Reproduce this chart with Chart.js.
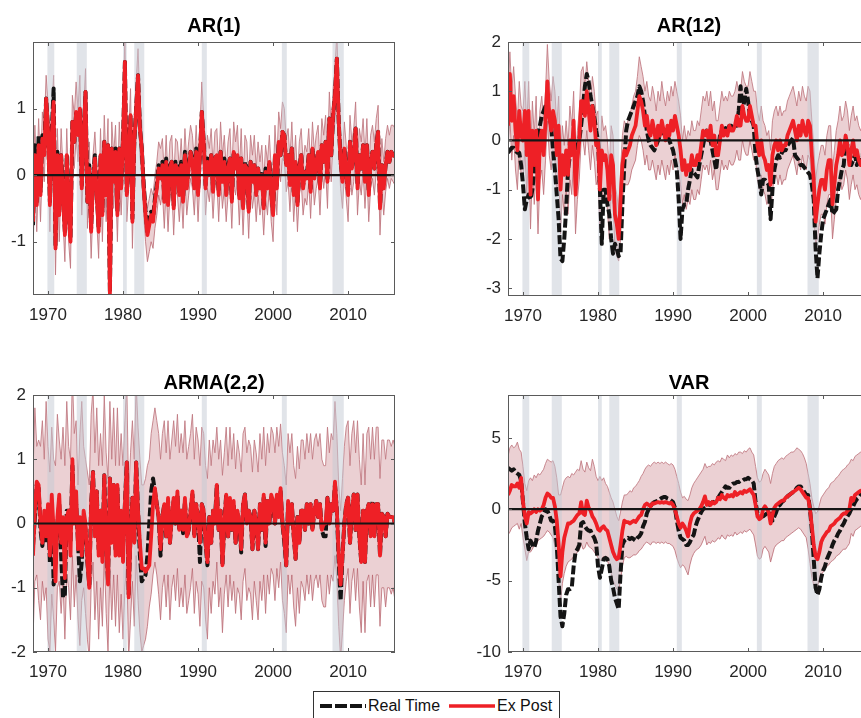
<!DOCTYPE html>
<html>
<head>
<meta charset="utf-8">
<script src="https://cdn.jsdelivr.net/npm/chart.js@4.4.1/dist/chart.umd.min.js"></script>
<style>
  html, body { margin: 0; padding: 0; background: #fff; }
  body { width: 861px; height: 718px; overflow: hidden; position: relative; font-family: 'Liberation Sans', Arial, Helvetica, sans-serif; }
  .panel { position: absolute; }
  #legend { position: absolute; left: 313px; top: 691px; width: 245px; height: 30px; border: 1px solid #333; background: #fff; font-size: 16px; color: #111; }
  #legend svg, #legend span { position: absolute; }
  #legend span { top: 5px; }
</style>
</head>
<body>
<div class="panel" style="left:-10px;top:14px"><canvas id="ar1" width="410" height="321"></canvas></div>
<div class="panel" style="left:465px;top:14px"><canvas id="ar12" width="410" height="322"></canvas></div>
<div class="panel" style="left:-10px;top:371px"><canvas id="arma" width="410" height="321"></canvas></div>
<div class="panel" style="left:465px;top:371px"><canvas id="var" width="410" height="321"></canvas></div>

<div id="legend">
  <svg style="left:6px;top:10px" width="46" height="8"><line x1="0" y1="4" x2="46" y2="4" stroke="#141414" stroke-width="4" stroke-dasharray="12 3"/></svg>
  <span style="left:54px">Real Time</span>
  <svg style="left:135px;top:10px" width="46" height="8"><line x1="0" y1="4" x2="46" y2="4" stroke="#ee2026" stroke-width="3.5"/></svg>
  <span style="left:183px">Ex Post</span>
</div>

<script>
// quarterly observations, first one is 1968Q1
const startYear = 1968;
const yearTicks = [1970, 1980, 1990, 2000, 2010];

// NBER recessions (start, end) in fractional years
const recessions = [
  [1969.92, 1970.83], [1973.83, 1975.17], [1980.0, 1980.5], [1981.5, 1982.83],
  [1990.5, 1991.17], [2001.17, 2001.83], [2007.92, 2009.42]
];

// ---- AR(1) ----
const ar1RealTime = [
  -0.75, 0.45, -0.4, 0.6, -0.25, 0.6, 0.4, 1.15, 0.7, -0.4, 0.65, 1.3, -1.05, 0.35, -0.55, 0.3,
  -0.25, -0.85, 0.3, -0.55, -0.95, 0.8, 0.5, 0.95, 0.6, 1.0, -0.15, 0.6, 1.25, -0.4, 0.15, -0.8,
  -0.05, 0.3, -0.25, -0.8, 0.3, -0.55, 0.5, -0.25, 0.45, -1.75, 0.4, -0.05, 0.4, -0.55, 0.4, -0.15,
  0.5, 1.7, -0.25, 0.2, 0.9, -0.65, 0.5, 1.0, 1.5, 0.7, 0.4, -0.15, -0.55, -0.85, -0.6, -0.55,
  -0.65, -0.35, -0.15, 0.15, 0.0, 0.2, -0.35, 0.25, -0.4, 0.15, 0.2, -0.45, 0.2, 0.15, -0.25, 0.2,
  -0.35, 0.35, -0.15, 0.15, 0.35, 0.25, -0.15, 0.4, -0.25, 0.3, 0.95, 0.5, -0.15, 0.25, 0.05, 0.3,
  -0.2, 0.25, 0.3, -0.25, 0.35, -0.05, 0.25, -0.25, 0.15, 0.25, -0.35, 0.35, 0.15, 0.3, -0.3, 0.25,
  -0.45, 0.2, 0.1, -0.5, 0.2, -0.05, 0.15, -0.25, 0.1, -0.15, 0.05, -0.45, 0.1, -0.15, 0.2, -0.25,
  -0.55, 0.3, -0.15, 0.5, 0.3, 0.65, 0.6, 0.15, 0.3, -0.1, 0.4, -0.25, 0.2, -0.4, 0.1, 0.3,
  -0.15, 0.05, 0.0, 0.3, -0.2, 0.4, 0.0, 0.2, 0.35, -0.15, 0.45, 0.2, 0.5, -0.05, 0.85, 0.3,
  0.9, 1.2, 1.75, 0.8, 0.2, -0.05, 0.4, 0.05, -0.25, 0.5, 0.1, 0.3, 0.7, -0.15, 0.3, 0.1,
  0.45, -0.05, 0.45, -0.25, 0.2, 0.35, 0.1, 0.45, 0.65, -0.45, 0.15, -0.15, 0.15, 0.35, 0.2, 0.35,
  0.3, 0.28
];
const ar1ExPost = [
  -0.7, 0.3, -0.45, 0.45, -0.3, 0.55, 0.3, 1.15, 0.7, -0.45, 0.6, 1.1, -1.1, 0.3, -0.6, 0.3,
  -0.3, -0.9, 0.3, -0.6, -1.0, 0.8, 0.5, 0.95, 0.6, 1.0, -0.2, 0.6, 1.25, -0.4, 0.1, -0.85,
  -0.1, 0.25, -0.3, -0.85, 0.3, -0.6, 0.5, -0.3, 0.45, -1.8, 0.4, -0.1, 0.35, -0.6, 0.4, -0.2,
  0.5, 1.7, -0.3, 0.2, 0.9, -0.7, 0.5, 1.0, 1.5, 0.7, 0.4, -0.2, -0.6, -0.9, -0.75, -0.6,
  -0.7, -0.4, -0.2, 0.1, -0.05, 0.15, -0.4, 0.2, -0.45, 0.1, 0.2, -0.5, 0.15, 0.1, -0.3, 0.15,
  -0.4, 0.3, -0.2, 0.1, 0.35, 0.2, -0.2, 0.35, -0.3, 0.3, 0.95, 0.5, -0.2, 0.2, 0.0, 0.3,
  -0.25, 0.25, 0.3, -0.3, 0.35, -0.1, 0.2, -0.3, 0.1, 0.25, -0.4, 0.35, 0.1, 0.3, -0.35, 0.25,
  -0.5, 0.15, 0.1, -0.55, 0.2, -0.1, 0.15, -0.3, 0.1, -0.2, 0.0, -0.5, 0.05, -0.2, 0.2, -0.3,
  -0.6, 0.3, -0.2, 0.5, 0.3, 0.65, 0.6, 0.15, 0.3, -0.15, 0.4, -0.3, 0.2, -0.45, 0.1, 0.3,
  -0.2, 0.05, -0.05, 0.3, -0.25, 0.4, -0.05, 0.2, 0.35, -0.2, 0.45, 0.2, 0.5, -0.1, 0.85, 0.3,
  0.9, 1.2, 1.75, 0.8, 0.2, -0.1, 0.4, 0.05, -0.3, 0.5, 0.1, 0.3, 0.7, -0.2, 0.3, 0.1,
  0.45, -0.1, 0.45, -0.3, 0.2, 0.35, 0.1, 0.45, 0.65, -0.5, 0.15, -0.2, 0.15, 0.35, 0.2, 0.35,
  0.3, 0.28
];
const ar1Upper = [
  -0.2, 0.75, 0.0, 0.85, 0.1, 0.95, 0.7, 1.5, 1.1, 0.0, 1.0, 1.5, -0.65, 0.7, -0.2, 0.7,
  0.1, -0.5, 0.7, -0.2, -0.55, 1.2, 0.9, 1.4, 1.0, 1.5, 0.2, 1.0, 1.6, 0.0, 0.5, -0.45,
  0.3, 0.65, 0.1, -0.4, 0.7, -0.2, 0.9, 0.1, 0.85, -1.4, 0.8, 0.3, 0.75, -0.2, 0.8, 0.2,
  0.9, 2.1, 0.1, 0.6, 1.3, -0.3, 0.9, 1.4, 1.9, 1.1, 0.8, 0.2, -0.2, -0.5, -0.35, -0.2,
  -0.3, 0.0, 0.2, 0.5, 0.4, 0.55, 0.0, 0.6, -0.05, 0.5, 0.6, -0.1, 0.55, 0.5, 0.1, 0.55,
  0.0, 0.7, 0.2, 0.5, 0.75, 0.6, 0.2, 0.75, 0.1, 0.7, 1.4, 0.9, 0.2, 0.6, 0.4, 0.7,
  0.15, 0.65, 0.7, 0.1, 0.8, 0.3, 0.6, 0.1, 0.5, 0.7, 0.0, 0.8, 0.5, 0.75, 0.05, 0.7,
  -0.1, 0.6, 0.5, -0.1, 0.6, 0.3, 0.6, 0.1, 0.5, 0.2, 0.45, -0.1, 0.45, 0.2, 0.6, 0.1,
  -0.2, 0.75, 0.2, 0.95, 0.7, 1.1, 1.0, 0.55, 0.7, 0.25, 0.8, 0.1, 0.6, -0.05, 0.5, 0.7,
  0.2, 0.45, 0.35, 0.7, 0.15, 0.8, 0.35, 0.6, 0.75, 0.2, 0.85, 0.6, 0.9, 0.3, 1.25, 0.7,
  1.3, 1.6, 2.15, 1.2, 0.6, 0.3, 0.8, 0.45, 0.1, 0.9, 0.5, 0.7, 1.1, 0.2, 0.7, 0.5,
  0.85, 0.3, 0.85, 0.1, 0.6, 0.75, 0.5, 0.85, 1.05, -0.1, 0.55, 0.2, 0.55, 0.75, 0.6, 0.75,
  0.75, 0.7
];
const ar1Lower = [
  -1.2, -0.1, -0.85, 0.05, -0.7, 0.15, -0.1, 0.75, 0.3, -0.85, 0.2, 0.7, -1.5, -0.1, -1.0, -0.1,
  -0.7, -1.3, -0.1, -1.0, -1.4, 0.4, 0.1, 0.55, 0.2, 0.6, -0.6, 0.2, 0.85, -0.8, -0.3, -1.25,
  -0.5, -0.15, -0.7, -1.25, -0.1, -1.0, 0.1, -0.7, 0.05, -2.2, 0.0, -0.5, -0.05, -1.0, 0.0, -0.6,
  0.1, 1.3, -0.7, -0.2, 0.5, -1.1, 0.1, 0.6, 1.1, 0.3, 0.0, -0.6, -1.0, -1.3, -1.15, -1.0,
  -1.1, -0.8, -0.6, -0.3, -0.45, -0.25, -0.8, -0.2, -0.85, -0.3, -0.2, -0.9, -0.25, -0.3, -0.7, -0.25,
  -0.8, -0.1, -0.6, -0.3, -0.05, -0.2, -0.6, -0.05, -0.7, -0.1, 0.55, 0.1, -0.6, -0.2, -0.4, -0.1,
  -0.65, -0.15, -0.1, -0.7, -0.05, -0.5, -0.2, -0.7, -0.3, -0.15, -0.8, -0.05, -0.3, -0.1, -0.75, -0.15,
  -0.9, -0.25, -0.3, -0.95, -0.2, -0.5, -0.25, -0.7, -0.3, -0.6, -0.4, -0.9, -0.35, -0.6, -0.2, -0.7,
  -1.0, -0.1, -0.6, 0.1, -0.1, 0.25, 0.2, -0.25, -0.1, -0.55, 0.0, -0.7, -0.2, -0.85, -0.3, -0.1,
  -0.6, -0.35, -0.45, -0.1, -0.65, 0.0, -0.45, -0.2, -0.05, -0.6, 0.05, -0.2, 0.1, -0.5, 0.45, -0.1,
  0.5, 0.8, 1.35, 0.4, -0.2, -0.5, 0.0, -0.35, -0.7, 0.1, -0.3, -0.1, 0.3, -0.6, -0.1, -0.3,
  0.05, -0.5, 0.05, -0.7, -0.2, -0.05, -0.3, 0.05, 0.25, -0.9, -0.25, -0.6, -0.25, -0.05, -0.2, -0.05,
  -0.1, -0.15
];

// ---- AR(12) ----
const ar12RealTime = [
  -0.25, -0.2, -0.15, -0.15, -0.2, -0.25, -0.25, -0.5, -0.9, -1.4, -1.2, -1.1, -1.2, -1.0, -0.6, -0.3,
  0.1, 0.3, 0.5, 0.6, 0.7, 0.75, 0.5, 0.3, -0.2, -0.6, -1.1, -1.6, -2.4, -2.45, -2.0, -1.4,
  -0.6, -0.3, 0.0, -0.2, -0.3, -0.1, 0.0, 0.3, 0.7, 1.1, 1.35, 1.2, 0.9, 0.7, 0.5, 0.2,
  0.0, -1.0, -2.1, -1.0, -1.0, -1.3, -1.5, -2.0, -2.3, -2.1, -2.2, -2.35, -2.3, -1.3, -0.5, 0.2,
  0.4, 0.5, 0.6, 0.7, 0.8, 0.9, 1.1, 1.0, 0.8, 0.5, 0.2, 0.0, -0.1, -0.15, -0.2, -0.1,
  0.0, 0.1, 0.15, 0.2, 0.2, 0.1, 0.0, -0.1, -0.2, -0.4, -0.6, -1.2, -2.0, -1.4, -1.3, -1.3,
  -1.0, -0.8, -0.6, -0.65, -0.7, -0.75, -0.5, -0.3, -0.1, 0.1, 0.2, 0.1, 0.0, -0.2, -0.4, -0.6,
  -0.2, 0.1, 0.2, 0.2, 0.25, 0.2, 0.3, 0.3, 0.25, 0.3, 0.3, 0.6, 1.1, 0.6, 0.8, 1.05,
  0.8, 0.5, 0.4, 0.3, -0.3, -0.6, -0.8, -1.1, -0.8, -0.8, -0.85, -0.9, -1.6, -1.0, -0.6, -0.4,
  -0.3, -0.35, -0.25, -0.2, -0.2, -0.1, -0.05, 0.0, 0.05, -0.3, -0.35, -0.4, -0.5, -0.5, -0.55, -0.6,
  -0.65, -0.7, -0.9, -1.2, -2.2, -2.8, -2.3, -1.9, -1.6, -1.5, -1.4, -1.3, -1.2, -1.5, -1.45, -1.4,
  -1.0, -0.8, -0.6, -0.5, 0.0, -0.1, -0.2, -0.5, -0.4, -0.3, -0.5, -0.4, -0.3, -0.3, -0.4, -0.35,
  -0.3, -0.3
];
const ar12ExPost = [
  0.3, 1.35, 0.4, 0.9, 0.2, -0.2, 0.6, 0.1, 0.0, 0.6, -0.3, 0.6, -1.1, 0.2, -0.5, 0.2,
  -1.2, 0.0, 0.2, -0.3, 0.4, 1.2, 0.5, 0.2, 0.6, 0.4, -0.3, 0.3, -1.0, -0.3, -0.7, -0.2,
  -0.7, 0.0, -0.3, 0.4, -1.1, -0.4, 0.0, 0.8, 0.8, 0.5, 1.0, 0.6, 0.2, 0.7, 0.4, -0.1,
  0.0, -1.0, -0.2, -0.4, -0.3, -0.6, -1.2, -0.3, -0.5, -1.5, -1.7, -2.0, -1.2, -0.5, -0.2, -0.3,
  -0.2, -0.1, 0.1, 0.2, 0.3, 0.6, 0.9, 0.8, 0.6, 0.3, 0.5, 0.2, 0.1, 0.4, 0.2, -0.1,
  0.3, 0.1, 0.4, 0.2, 0.0, 0.3, 0.1, 0.4, 0.2, 0.5, 0.3, 0.1, -0.2, -0.6, -0.4, -0.7,
  -0.5, -0.6, -0.3, -0.5, -0.5, -0.3, -0.4, -0.1, 0.2, 0.1, 0.2, 0.0, 0.3, -0.1, 0.1, -0.3,
  -0.3, 0.0, 0.3, 0.1, 0.2, 0.1, 0.3, 0.2, 0.2, 0.3, 0.5, 0.3, 0.3, 0.7, 0.5, 0.4,
  0.4, 0.7, 0.5, 0.3, 0.3, -0.1, -0.3, 0.0, -0.3, -0.4, -0.6, -0.5, -0.9, -0.3, -0.1, 0.0,
  -0.2, 0.0, -0.2, -0.1, -0.1, 0.1, 0.2, 0.3, 0.4, 0.2, 0.0, 0.3, 0.1, 0.4, 0.2, 0.1,
  0.4, 0.3, -0.3, -0.8, -1.65, -1.3, -1.0, -0.8, -0.8, -1.0, -0.6, -0.4, -0.4, -1.3, -0.9, -0.5,
  -0.3, 0.0, -0.3, -0.2, 0.1, -0.1, -0.5, -0.2, 0.0, -0.3, -0.2, -0.4, -0.5, -0.4, -0.3, -0.2,
  -0.2, -0.1
];
const ar12Upper = [
  0.9, 1.8, 1.0, 1.5, 0.9, 0.4, 1.2, 0.7, 0.6, 1.2, 0.3, 1.2, -0.4, 0.8, 0.1, 0.9,
  -0.5, 0.6, 0.9, 0.4, 1.0, 1.95, 1.2, 0.8, 1.3, 1.0, 0.3, 0.9, -0.3, 0.3, -0.1, 0.4,
  -0.1, 0.7, 0.3, 1.0, -0.4, 0.2, 0.6, 1.4, 1.5, 1.1, 1.6, 1.2, 0.8, 1.3, 1.0, 0.5,
  0.6, -0.4, 0.5, 0.2, 0.3, 0.0, -0.6, 0.3, 0.1, -0.9, -1.1, -1.4, -0.6, 0.1, 0.4, 0.3,
  0.4, 0.5, 0.7, 0.9, 1.0, 1.3, 1.7, 1.5, 1.3, 1.0, 1.2, 0.9, 0.8, 1.1, 0.9, 0.6,
  1.0, 0.8, 1.2, 0.9, 0.7, 1.0, 0.8, 1.1, 0.9, 1.2, 1.0, 0.8, 0.5, 0.0, 0.3, 0.0,
  0.2, 0.1, 0.4, 0.2, 0.2, 0.4, 0.3, 0.6, 0.9, 0.8, 1.0, 0.7, 1.0, 0.6, 0.8, 0.4,
  0.4, 0.7, 1.0, 0.8, 0.9, 0.8, 1.0, 0.9, 0.9, 1.0, 1.2, 1.0, 1.0, 1.4, 1.2, 1.1,
  1.1, 1.4, 1.2, 1.0, 1.0, 0.6, 0.4, 0.7, 0.4, 0.3, 0.1, 0.2, -0.2, 0.4, 0.6, 0.7,
  0.5, 0.7, 0.5, 0.6, 0.6, 0.8, 0.9, 1.0, 1.1, 0.9, 0.7, 1.0, 0.8, 1.1, 0.9, 0.8,
  1.1, 1.0, 0.4, -0.1, -0.8, -0.5, -0.3, -0.1, -0.1, -0.3, 0.1, 0.3, 0.3, -0.6, -0.2, 0.2,
  0.4, 0.7, 0.4, 0.5, 0.8, 0.6, 0.2, 0.5, 0.7, 0.4, 0.5, 0.3, 0.2, 0.3, 0.4, 0.5,
  0.5, 0.6
];
const ar12Lower = [
  -0.3, 0.5, -0.4, 0.1, -0.6, -1.0, -0.2, -0.7, -0.8, -0.2, -1.1, -0.2, -1.8, -0.6, -1.3, -0.6,
  -1.9, -0.8, -0.6, -1.1, -0.4, 0.4, -0.3, -0.6, -0.2, -0.4, -1.1, -0.5, -1.9, -1.1, -1.5, -1.0,
  -1.5, -0.8, -1.1, -0.4, -1.9, -1.2, -0.8, 0.0, 0.0, -0.3, 0.2, -0.2, -0.6, -0.1, -0.4, -0.9,
  -0.8, -1.8, -1.0, -1.2, -1.1, -1.4, -2.0, -1.1, -1.3, -2.2, -2.35, -2.45, -2.0, -1.2, -0.9, -0.9,
  -0.9, -0.8, -0.6, -0.5, -0.4, -0.1, 0.1, 0.0, -0.2, -0.5, -0.3, -0.6, -0.6, -0.4, -0.6, -0.8,
  -0.5, -0.7, -0.4, -0.6, -0.8, -0.5, -0.7, -0.4, -0.6, -0.3, -0.5, -0.7, -0.9, -1.3, -1.1, -1.4,
  -1.2, -1.3, -1.0, -1.2, -1.2, -1.0, -1.1, -0.8, -0.5, -0.6, -0.5, -0.7, -0.4, -0.8, -0.6, -1.0,
  -1.0, -0.7, -0.4, -0.6, -0.5, -0.6, -0.4, -0.5, -0.5, -0.4, -0.2, -0.4, -0.4, 0.0, -0.2, -0.3,
  -0.3, 0.0, -0.2, -0.4, -0.4, -0.8, -1.0, -0.7, -1.0, -1.1, -1.3, -1.2, -1.6, -1.0, -0.8, -0.7,
  -0.9, -0.7, -0.9, -0.8, -0.8, -0.6, -0.5, -0.4, -0.3, -0.5, -0.7, -0.4, -0.6, -0.3, -0.5, -0.6,
  -0.3, -0.4, -1.0, -1.5, -2.1, -2.0, -1.7, -1.5, -1.5, -1.7, -1.3, -1.1, -1.1, -2.0, -1.6, -1.2,
  -1.0, -0.7, -1.0, -0.9, -0.6, -0.8, -1.2, -0.9, -0.7, -1.0, -0.9, -1.1, -1.2, -1.1, -1.0, -0.9,
  -0.9, -0.8
];

// ---- ARMA(2,2) ----
const armaRealTime = [
  -0.35, 0.1, 0.6, 0.55, -0.1, -0.35, 0.1, -0.3, 0.2, -0.6, 0.3, -0.95, -0.6, 0.0, 0.3, -0.5,
  -1.15, -1.1, 0.2, 0.2, -0.3, 0.9, 0.1, 0.3, -0.3, -0.9, -0.6, 0.1, -0.1, -0.6, -0.95, 0.3,
  0.8, -0.1, 0.5, -0.4, 0.2, -0.5, 0.75, -0.25, -0.9, 0.7, -0.25, 0.6, -0.4, 0.55, -0.35, 0.1,
  -0.35, 0.3, 0.95, -1.1, -0.15, 0.4, -0.3, 0.95, 0.2, -0.5, -0.9, -0.85, -0.8, -0.5, 0.0, 0.5,
  0.7, 0.5, 0.3, 0.1, -0.5, 0.1, 0.3, -0.2, 0.35, -0.3, 0.1, 0.35, 0.0, 0.45, -0.1, 0.2,
  -0.15, 0.35, -0.2, -0.1, 0.2, 0.45, -0.2, 0.3, 0.1, -0.6, 0.3, 0.2, -0.3, -0.65, 0.1, -0.3,
  0.2, 0.05, 0.6, -0.1, 0.2, -0.65, 0.0, 0.45, -0.2, 0.35, -0.1, 0.3, -0.3, 0.15, 0.0, -0.45,
  0.3, 0.45, 0.0, 0.2, 0.1, -0.4, 0.2, 0.0, -0.4, 0.3, -0.1, 0.4, -0.35, 0.35, 0.0, 0.4,
  0.3, 0.0, 0.4, 0.1, 0.5, 0.0, -0.3, -0.65, 0.3, 0.0, 0.3, -0.2, -0.55, 0.1, -0.3, 0.2,
  0.2, -0.1, 0.3, 0.0, 0.3, -0.1, 0.2, 0.35, 0.1, 0.3, -0.1, -0.2, -0.2, 0.4, 0.0, 0.3,
  0.2, 0.6, 0.2, -0.6, -1.2, -0.5, 0.0, 0.3, 0.4, -0.3, 0.2, 0.45, -0.1, 0.45, -0.2, -0.6,
  0.2, -0.6, 0.2, 0.3, -0.2, 0.35, -0.2, 0.3, 0.3, -0.5, 0.15, 0.1, -0.2, 0.15, 0.1, 0.1,
  0.1, 0.0
];
const armaExPost = [
  -0.5, 0.2, 0.65, 0.6, 0.0, -0.3, 0.2, -0.2, 0.3, -0.5, 0.45, -0.1, -0.9, 0.1, 0.45, -0.3,
  0.1, -0.85, 0.1, 0.2, -0.5, 1.0, 0.0, 0.5, -0.4, 0.1, -0.5, 0.2, 0.0, -0.6, -1.0, 0.3,
  0.8, -0.2, 0.5, -0.5, 0.2, -0.6, 0.75, -0.3, -0.95, 0.7, -0.3, 0.6, -0.5, 0.6, -0.5, 0.2,
  -0.6, 0.3, 0.95, -1.15, -0.2, 0.4, -0.3, 0.95, 0.2, -0.3, -0.7, -0.7, -0.75, -0.7, -0.65, -0.2,
  0.3, 0.55, 0.3, 0.1, -0.4, 0.1, 0.3, -0.2, 0.4, -0.3, 0.1, 0.4, 0.0, 0.5, -0.1, 0.2,
  -0.1, 0.4, -0.2, -0.1, 0.2, 0.5, -0.2, 0.3, 0.1, -0.3, 0.3, 0.2, -0.3, -0.6, 0.1, -0.3,
  0.2, 0.0, 0.6, -0.1, 0.2, -0.65, 0.0, 0.45, -0.2, 0.4, -0.1, 0.35, -0.3, 0.2, 0.0, -0.4,
  0.3, 0.45, 0.0, 0.2, 0.1, -0.4, 0.2, 0.0, -0.4, 0.3, -0.1, 0.45, -0.3, 0.35, 0.0, 0.45,
  0.35, 0.0, 0.45, 0.1, 0.55, 0.0, -0.25, -0.65, 0.35, 0.0, 0.3, -0.2, -0.55, 0.1, -0.3, 0.2,
  0.2, -0.1, 0.3, 0.0, 0.3, -0.1, 0.2, 0.35, 0.1, 0.3, -0.1, 0.0, 0.0, 0.4, 0.0, 0.3,
  0.2, 0.65, 0.2, -0.5, -0.95, -0.5, 0.0, 0.3, 0.4, -0.3, 0.2, 0.45, -0.1, 0.45, -0.2, -0.6,
  0.2, -0.6, 0.2, 0.3, -0.2, 0.3, -0.2, 0.3, 0.3, -0.5, 0.15, 0.1, -0.2, 0.15, 0.1, 0.1,
  0.1, 0.0
];
const armaUpper = [
  0.75, 1.8, 1.2, 1.3, 1.2, 1.6, 1.0, 1.9, 1.2, 0.8, 1.5, 1.0, 0.9, 1.7, 1.3, 1.0,
  1.5, 0.9, 1.9, 1.2, 1.0, 2.3, 1.4, 1.6, 0.6, 1.4, 1.9, 1.2, 1.0, 0.8, 0.6, 1.7,
  2.1, 1.1, 1.8, 0.9, 1.4, 0.9, 2.0, 1.1, 0.7, 1.9, 1.0, 1.8, 0.9, 1.8, 0.9, 1.4,
  0.9, 1.6, 2.2, 0.4, 1.1, 1.6, 1.0, 2.2, 1.5, 1.0, 0.6, 0.6, 0.7, 0.9, 1.0, 1.4,
  1.6, 1.8, 1.6, 1.4, 1.0, 1.4, 1.6, 1.1, 1.6, 1.0, 1.3, 1.6, 1.2, 1.7, 1.1, 1.4,
  1.1, 1.6, 1.0, 1.2, 1.4, 1.7, 1.0, 1.5, 1.3, 0.9, 1.5, 1.4, 0.9, 0.7, 1.3, 0.9,
  1.3, 1.1, 1.5, 1.0, 1.3, 0.75, 1.1, 1.5, 0.9, 1.5, 1.0, 1.4, 0.85, 1.3, 1.1, 0.8,
  1.4, 1.5, 1.1, 1.3, 1.2, 0.8, 1.3, 1.1, 0.8, 1.4, 1.0, 1.5, 0.9, 1.4, 1.1, 1.5,
  1.4, 1.1, 1.5, 1.2, 1.55, 1.1, 0.9, 0.6, 1.4, 1.1, 1.4, 0.9, 0.7, 1.2, 0.85, 1.3,
  1.3, 1.0, 1.4, 1.1, 1.4, 1.0, 1.3, 1.4, 1.2, 1.4, 1.0, 0.9, 0.9, 1.5, 1.1, 1.4,
  1.3, 1.9, 1.4, 0.6, 0.2, 0.7, 1.2, 1.5, 1.6, 0.9, 1.4, 1.6, 1.1, 1.6, 1.0, 0.6,
  1.4, 0.6, 1.4, 1.5, 1.0, 1.5, 1.0, 1.5, 1.5, 0.7, 1.3, 1.3, 1.0, 1.3, 1.3, 1.2,
  1.3, 1.2
];
const armaLower = [
  -1.8, -0.9, -0.8, -1.2, -1.5, -0.9, -1.2, -1.0, -1.8, -2.0, -1.1, -1.5, -2.0, -1.0, -0.9, -1.4,
  -0.9, -1.8, -0.8, -1.0, -1.5, -0.5, -1.3, -0.8, -1.5, -1.9, -1.2, -1.0, -1.4, -1.8, -2.1, -1.0,
  -0.6, -1.5, -0.9, -1.8, -1.0, -1.6, -0.5, -1.4, -2.0, -0.7, -1.5, -0.8, -1.6, -0.8, -1.7, -1.1,
  -1.8, -1.0, -0.6, -2.1, -1.5, -0.9, -1.6, -0.5, -1.2, -1.7, -2.0, -1.9, -1.8, -1.6, -1.3, -1.1,
  -0.8, -0.6, -0.8, -1.1, -1.5, -1.0, -0.8, -1.3, -0.8, -1.5, -1.0, -0.8, -1.2, -0.7, -1.3, -1.0,
  -1.3, -0.8, -1.4, -1.2, -1.0, -0.7, -1.4, -0.9, -1.1, -1.6, -0.9, -1.0, -1.5, -1.8, -1.0, -1.4,
  -0.9, -1.1, -0.6, -1.3, -1.0, -1.7, -1.1, -0.8, -1.3, -0.8, -1.2, -0.9, -1.4, -1.0, -1.1, -1.5,
  -0.9, -0.7, -1.2, -1.0, -1.1, -1.5, -0.9, -1.2, -1.5, -0.9, -1.2, -0.8, -1.4, -0.8, -1.1, -0.7,
  -0.8, -1.2, -0.7, -1.0, -0.6, -1.2, -1.4, -1.7, -0.8, -1.1, -0.8, -1.3, -1.6, -1.0, -1.4, -0.9,
  -1.0, -1.2, -0.8, -1.1, -0.8, -1.2, -0.9, -0.8, -1.0, -0.8, -1.2, -1.3, -1.3, -0.8, -1.1, -0.8,
  -0.9, -0.5, -0.9, -1.6, -2.1, -1.7, -1.2, -0.9, -0.7, -1.4, -0.9, -0.7, -1.2, -0.7, -1.3, -1.7,
  -0.9, -1.7, -0.9, -0.8, -1.3, -0.8, -1.3, -0.8, -0.8, -1.6, -1.0, -1.0, -1.3, -1.0, -1.0, -1.1,
  -1.0, -1.2
];

// ---- VAR ----
const varRealTime = [
  2.9, 2.8, 2.7, 2.8, 2.6, 2.5, 2.4, 2.0, 0.5, -1.0, -2.0, -2.8, -2.2, -2.5, -2.7, -2.2,
  -1.5, -1.0, -0.5, -0.3, 0.0, -0.1, -0.4, -0.8, -0.8, -1.2, -2.5, -5.0, -7.5, -8.2, -7.3, -6.0,
  -5.6, -5.6, -5.5, -4.0, -3.0, -2.8, -2.5, -1.0, -0.9, -1.2, -1.4, -1.5, -1.5, -1.8, -2.0, -2.4,
  -4.0, -4.8, -4.2, -3.5, -3.4, -3.5, -4.0, -5.0, -5.5, -6.2, -6.6, -7.0, -4.5, -2.5, -2.2, -2.1,
  -2.0, -2.1, -2.0, -2.1, -2.2, -2.0, -1.9, -1.7, -1.2, -0.9, -0.3, 0.0, 0.2, 0.4, 0.5, 0.55,
  0.6, 0.7, 0.8, 0.85, 0.85, 0.75, 0.7, 0.6, 0.5, 0.1, -0.8, -1.5, -2.0, -2.1, -2.2, -2.5,
  -2.5, -2.3, -2.0, -1.8, -1.2, -0.8, -0.5, -0.2, 0.0, 0.1, 0.2, 0.3, 0.4, 0.5, 0.5, 0.7,
  0.8, 1.0, 1.2, 1.4, 1.6, 1.5, 1.5, 1.7, 1.8, 1.8, 1.9, 1.9, 2.0, 2.0, 2.1, 2.1,
  2.2, 2.1, 2.0, 1.8, 0.5, -0.3, -0.5, -0.5, -0.5, -0.4, -0.3, -0.2, -0.3, -0.8, -0.5, -0.2,
  0.2, 0.3, 0.5, 0.6, 0.7, 0.9, 1.0, 1.1, 1.2, 1.3, 1.5, 1.6, 1.6, 1.4, 1.2, 1.0,
  1.0, 0.0, -1.5, -3.5, -5.5, -6.0, -5.6, -4.8, -4.3, -4.0, -3.5, -3.2, -2.9, -2.5, -2.2, -2.0,
  -1.7, -1.5, -1.2, -1.0, -0.7, -0.5, -0.3, 0.0, 0.2, 0.5, 0.7, 0.8, 1.0, 1.1, 1.2, 1.2,
  1.3, 1.3
];
const varExPost = [
  1.0, 1.3, 1.7, 1.6, 1.6, 1.8, 1.5, 2.2, 0.5, -0.5, -1.0, -0.2, -0.3, -0.2, 0.0, -0.2,
  0.0, -0.1, 0.0, 0.3, 0.8, 1.1, 1.0, 0.8, 0.8, 0.2, -0.8, -2.5, -4.7, -3.0, -2.0, -1.5,
  -1.0, -1.0, -0.9, -0.8, -0.6, -0.4, -0.3, 0.5, -0.3, -0.4, 0.6, 0.1, -0.1, -0.5, -0.7, -1.0,
  -1.4, -1.5, -1.3, -1.2, -1.4, -1.5, -2.0, -2.5, -3.0, -3.3, -3.5, -3.4, -2.5, -1.5, -0.8, -0.9,
  -0.9, -1.0, -0.9, -0.8, -0.9, -0.7, -0.5, -0.4, 0.0, 0.3, 0.4, 0.3, 0.2, 0.4, 0.4, 0.45,
  0.5, 0.45, 0.5, 0.45, 0.5, 0.45, 0.4, 0.45, 0.3, 0.0, -0.5, -1.0, -1.3, -1.0, -1.2, -1.5,
  -1.9, -1.0, -0.5, -0.3, -0.2, -0.1, 0.0, 0.2, 0.5, 0.9, 0.3, 0.5, 0.3, 0.5, 0.4, 0.5,
  0.8, 0.7, 1.0, 0.8, 0.7, 1.0, 0.9, 1.0, 0.9, 1.2, 1.0, 1.1, 1.2, 1.1, 1.3, 1.2,
  1.3, 1.4, 1.2, 1.0, 0.3, -0.5, -0.7, -0.6, 0.0, 0.2, 0.0, -0.2, -1.0, -0.4, 0.1, 0.3,
  0.4, 0.5, 0.6, 0.6, 0.8, 0.9, 1.0, 1.1, 1.2, 1.3, 1.4, 1.5, 1.4, 1.2, 1.0, 0.8,
  0.8, 0.0, -1.2, -2.5, -3.3, -3.5, -3.0, -2.3, -2.0, -1.8, -1.6, -1.5, -1.2, -1.1, -1.0, -0.8,
  -0.7, -0.6, -0.4, -0.3, -0.3, -0.1, 0.0, 0.8, 0.6, 1.0, 1.1, 1.2, 1.3, 1.2, 1.3, 1.4,
  1.4, 1.3
];
const varUpper = [
  3.7, 4.3, 4.5, 4.3, 4.4, 4.7, 4.2, 4.0, 3.0, 1.8, 1.3, 2.0, 2.2, 2.0, 2.4, 2.2,
  2.5, 2.4, 2.6, 2.8, 3.2, 3.5, 3.4, 3.3, 3.4, 3.0, 2.2, 1.0, 1.0, 1.5, 2.0, 2.2,
  2.3, 2.2, 2.5, 2.4, 2.6, 2.8, 2.7, 3.4, 2.8, 2.6, 3.3, 2.9, 2.7, 3.5, 3.0, 2.3,
  2.0, 2.3, 2.0, 2.2, 1.8, 1.6, 1.2, 0.8, 0.5, 0.0, -0.5, -0.8, -0.2, 0.5, 1.0, 1.0,
  1.1, 1.3, 1.2, 1.5, 1.6, 1.8, 2.0, 2.3, 2.5, 2.8, 3.0, 3.1, 3.0, 3.2, 3.3, 3.2,
  3.3, 3.2, 3.3, 3.2, 3.3, 3.2, 3.1, 3.2, 3.1, 2.8, 2.3, 1.8, 1.2, 0.8, 0.9, 0.7,
  0.6, 1.0, 1.5, 1.8, 2.0, 2.2, 2.4, 2.6, 2.8, 3.2, 2.9, 3.0, 3.0, 3.2, 3.1, 3.3,
  3.4, 3.3, 3.6, 3.5, 3.4, 3.8, 3.6, 3.8, 3.7, 3.9, 3.8, 4.0, 4.0, 3.9, 4.1, 4.0,
  4.2, 4.3, 4.0, 3.8, 3.0, 2.2, 1.9, 2.0, 2.5, 2.8, 2.6, 2.4, 1.8, 2.5, 3.0, 3.2,
  3.4, 3.5, 3.6, 3.5, 3.7, 3.8, 3.9, 4.0, 4.0, 4.1, 4.3, 4.2, 4.1, 3.9, 3.6, 3.2,
  2.5, 1.8, 0.8, 0.2, -0.3, -0.2, 0.3, 0.8, 1.0, 1.2, 1.4, 1.5, 1.8, 1.9, 2.0, 2.2,
  2.3, 2.5, 2.7, 2.8, 2.9, 3.1, 3.2, 3.5, 3.4, 3.7, 3.8, 3.9, 4.0, 4.0, 4.1, 4.2,
  4.2, 4.1
];
const varLower = [
  -1.8, -1.6, -1.3, -1.2, -1.1, -1.0, -1.4, -1.0, -2.0, -2.8, -3.6, -3.0, -3.0, -2.8, -2.5, -2.6,
  -2.2, -2.1, -2.0, -1.9, -1.7, -1.5, -1.6, -1.8, -2.0, -2.6, -3.5, -5.0, -6.5, -5.2, -4.5, -4.0,
  -3.7, -3.6, -3.5, -3.3, -3.2, -3.0, -2.9, -2.4, -2.8, -2.7, -2.3, -2.6, -2.7, -2.8, -3.0, -3.2,
  -3.4, -3.6, -3.5, -3.3, -3.5, -3.6, -4.0, -4.5, -5.0, -5.3, -5.6, -5.7, -5.0, -4.0, -3.4, -3.3,
  -3.4, -3.4, -3.3, -3.2, -3.2, -3.1, -2.9, -2.8, -2.6, -2.4, -2.3, -2.4, -2.5, -2.3, -2.3, -2.4,
  -2.3, -2.4, -2.3, -2.4, -2.3, -2.4, -2.4, -2.5, -2.6, -2.9, -3.4, -3.8, -4.1, -3.9, -4.0, -4.3,
  -4.6, -3.9, -3.4, -3.1, -2.9, -2.8, -2.7, -2.5, -2.2, -1.9, -2.5, -2.3, -2.4, -2.2, -2.3, -2.2,
  -2.0, -2.1, -1.8, -2.0, -2.1, -1.8, -1.9, -1.8, -1.9, -1.6, -1.8, -1.7, -1.6, -1.7, -1.5, -1.6,
  -1.5, -1.4, -1.6, -1.8, -2.5, -3.3, -3.5, -3.4, -2.8, -2.6, -2.8, -3.0, -3.7, -3.2, -2.7, -2.5,
  -2.4, -2.3, -2.2, -2.2, -2.0, -1.9, -1.8, -1.7, -1.6, -1.5, -1.4, -1.3, -1.4, -1.6, -1.8, -2.0,
  -2.8, -3.8, -4.8, -5.3, -5.5, -5.4, -5.0, -4.6, -4.4, -4.2, -4.0, -3.9, -3.7, -3.6, -3.5, -3.3,
  -3.2, -3.1, -2.9, -2.8, -2.8, -2.6, -2.4, -1.7, -1.9, -1.5, -1.4, -1.3, -1.2, -1.3, -1.2, -1.1,
  -1.1, -1.2
];

const quarters = ar1ExPost.map((v, i) => startYear + i / 4);

const FONT = "'Liberation Sans', Arial, Helvetica, sans-serif";
const RED = '#ee2026';
const BLACK = '#141414';
const BAND_EDGE = 'rgba(192, 120, 128, 0.85)';
const BAND_FILL = 'rgba(170, 60, 72, 0.24)';
const SHADE = 'rgba(196, 202, 212, 0.5)';
const TEXT = '#262626';

Chart.defaults.font.family = FONT;

// recession shading, zero line, and a boxed frame with inward ticks
const boxedAxes = {
  id: 'boxedAxes',
  beforeDatasetDraw(chart, args) {
    if (args.index !== 1) return; // band is done, lines still to come
    const { ctx, chartArea: a, scales: { x } } = chart;
    ctx.save();
    ctx.fillStyle = SHADE;
    for (const [from, to] of recessions) {
      const x0 = x.getPixelForValue(from);
      const x1 = x.getPixelForValue(to);
      ctx.fillRect(x0, a.top, x1 - x0, a.bottom - a.top);
    }
    ctx.restore();
  },
  afterDatasetsDraw(chart) {
    const { ctx, chartArea: a, scales: { x, y } } = chart;
    ctx.save();
    const y0 = y.getPixelForValue(0);
    ctx.strokeStyle = '#151515';
    ctx.lineWidth = 2.2;
    ctx.beginPath();
    ctx.moveTo(a.left, y0);
    ctx.lineTo(a.right, y0);
    ctx.stroke();

    ctx.strokeStyle = '#5a5a5a';
    ctx.lineWidth = 1;
    ctx.strokeRect(a.left + 0.5, a.top + 0.5, a.right - a.left - 1, a.bottom - a.top - 1);
    ctx.beginPath();
    for (const t of x.ticks) {
      const px = Math.round(x.getPixelForValue(t.value)) + 0.5;
      ctx.moveTo(px, a.bottom); ctx.lineTo(px, a.bottom - 4);
      ctx.moveTo(px, a.top); ctx.lineTo(px, a.top + 4);
    }
    for (const t of y.ticks) {
      const py = Math.round(y.getPixelForValue(t.value)) + 0.5;
      ctx.moveTo(a.left, py); ctx.lineTo(a.left + 4, py);
      ctx.moveTo(a.right, py); ctx.lineTo(a.right - 4, py);
    }
    ctx.stroke();
    ctx.restore();
  }
};

function drawPanel(canvasId, title, titleGap, realTime, exPost, upper, lower, yMin, yMax, yTicks) {
  new Chart(document.getElementById(canvasId), {
    type: 'line',
    data: {
      labels: quarters,
      datasets: [
        { label: 'Ex Post', data: exPost, borderColor: RED, borderWidth: 3.8 },
        { label: 'Real Time', data: realTime, borderColor: BLACK, borderWidth: 4, borderDash: [9, 3] },
        { label: 'upper', data: upper, borderColor: BAND_EDGE, borderWidth: 1, backgroundColor: BAND_FILL, fill: '+1' },
        { label: 'lower', data: lower, borderColor: BAND_EDGE, borderWidth: 1, fill: false }
      ]
    },
    options: {
      responsive: false,
      animation: false,
      events: [],
      clip: 0,
      layout: { autoPadding: false, padding: { left: 10, right: 5, top: 0, bottom: 0 } },
      elements: {
        point: { radius: 0 },
        line: { tension: 0, borderJoinStyle: 'round' }
      },
      plugins: {
        legend: { display: false },
        tooltip: { enabled: false },
        title: {
          display: true,
          fullSize: false,
          text: title,
          color: '#000',
          font: { size: 20, weight: 'bold' },
          padding: { top: 0, bottom: titleGap }
        }
      },
      scales: {
        x: {
          type: 'linear',
          min: quarters[0],
          max: quarters[quarters.length - 1],
          grid: { display: false, drawTicks: false },
          border: { display: false },
          afterBuildTicks: s => { s.ticks = yearTicks.map(v => ({ value: v })); },
          afterFit: s => { s.height = 40; s.paddingLeft = 0; s.paddingRight = 0; },
          ticks: { color: TEXT, font: { size: 17 }, padding: 10, maxRotation: 0, autoSkip: false, callback: v => String(v) }
        },
        y: {
          min: yMin,
          max: yMax,
          grid: { display: false, drawTicks: false },
          border: { display: false },
          afterBuildTicks: s => { s.ticks = yTicks.map(v => ({ value: v })); },
          afterFit: s => { s.width = 33; s.paddingTop = 0; s.paddingBottom = 0; },
          ticks: { color: TEXT, font: { size: 17 }, padding: 7, callback: v => String(v) }
        }
      }
    },
    plugins: [boxedAxes]
  });
}

drawPanel('ar1', 'AR(1)', 4, ar1RealTime, ar1ExPost, ar1Upper, ar1Lower, -1.8, 2, [-1, 0, 1]);
drawPanel('ar12', 'AR(12)', 4, ar12RealTime, ar12ExPost, ar12Upper, ar12Lower, -3.16, 2, [-3, -2, -1, 0, 1, 2]);
drawPanel('arma', 'ARMA(2,2)', 0, armaRealTime, armaExPost, armaUpper, armaLower, -2, 2, [-2, -1, 0, 1, 2]);
drawPanel('var', 'VAR', 0, varRealTime, varExPost, varUpper, varLower, -10, 8, [-10, -5, 0, 5]);
</script>
</body>
</html>
